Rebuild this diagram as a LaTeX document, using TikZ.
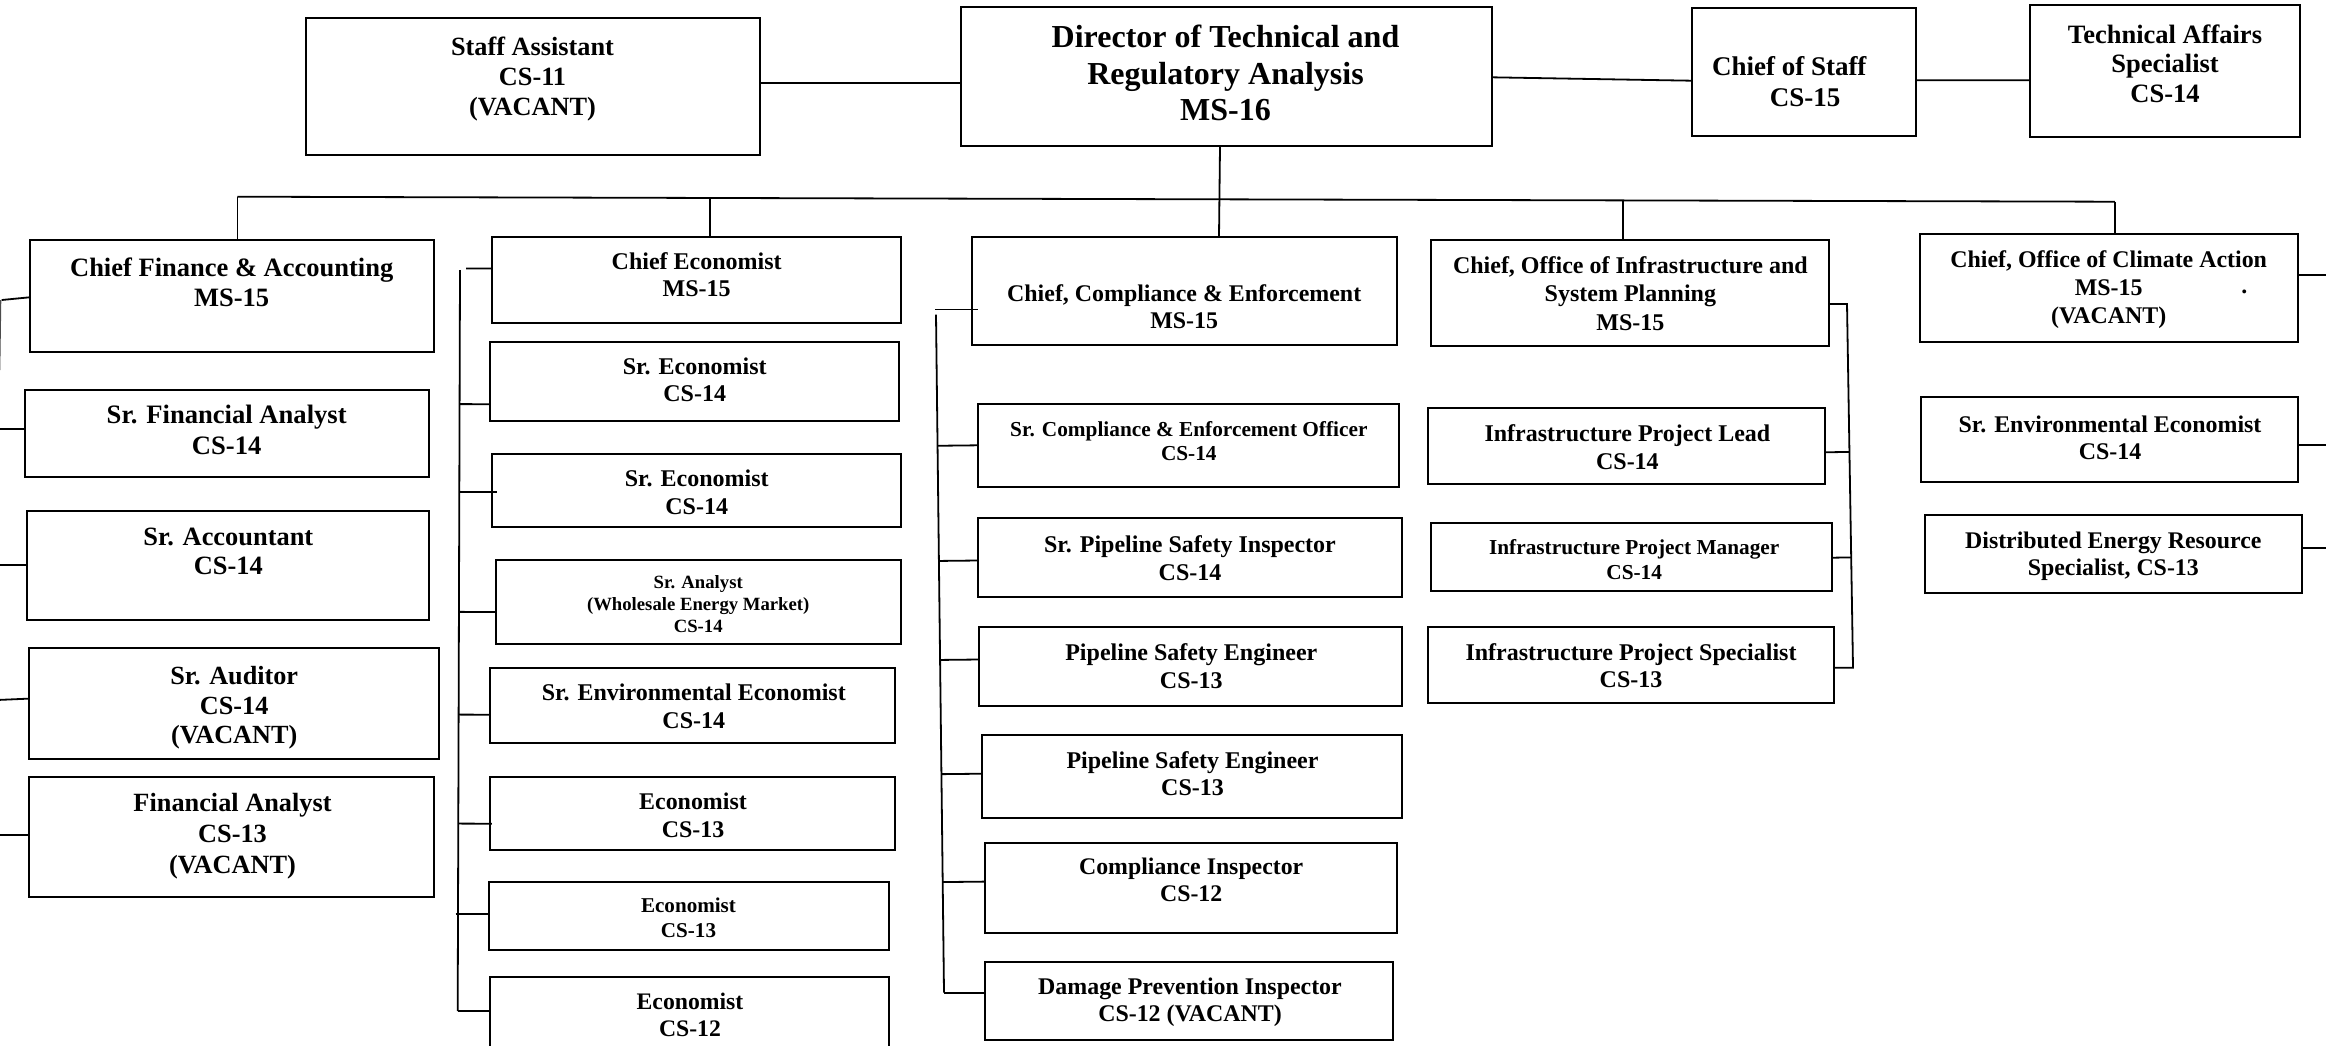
\documentclass[tikz,border=0pt]{standalone}
\usepackage{fontspec}
\setmainfont{Liberation Serif}
\usetikzlibrary{calc}
\newcommand\boxfont[2]{\fontsize{#1}{#2}\selectfont\bfseries}
\begin{document}
\begin{tikzpicture}[x=1pt, y=-1pt,
  orgbox/.style={draw, line width=2pt, rectangle, inner sep=0pt, outer sep=0pt},
  title/.style={inner sep=0pt, outer sep=0pt, align=center, anchor=north},
  wire/.style={line width=1.8pt},
]
\useasboundingbox (0,0) rectangle (2326,1045);
\clip (0,0) rectangle (2326,1045);

% ---------- top row ----------
\node[orgbox, minimum width=454.4pt, minimum height=137pt]   (staff)    at (532.8,86.5)  {};
\node[orgbox, minimum width=530.9pt, minimum height=139.5pt] (director) at (1226.2,76.3) {};
\node[orgbox, minimum width=224.3pt, minimum height=127.4pt] (cos)      at (1803.9,72.0) {};
\node[orgbox, minimum width=270pt,   minimum height=131.7pt] (tas)      at (2164.5,70.9) {};

\node[title, font={\boxfont{26.3}{30}}]   (staff-t)    at (532.5,36.7) {Staff Assistant\\CS-11\\(VACANT)};
\node[title, font={\boxfont{32}{36.6}}]   (director-t) at (1225.5,25)  {Director of Technical and\\Regulatory Analysis\\MS-16};
\node[title, font={\boxfont{27}{30.6}}, align=left, anchor=north west] (cos-t) at (1712,56.7) {Chief of Staff\\\hspace*{57.8pt}CS-15};
\node[title, font={\boxfont{26.5}{29.2}}] (tas-t)      at (2165,25)    {Technical Affairs\\Specialist\\CS-14};

% ---------- finance column ----------
\node[orgbox, minimum width=404.7pt, minimum height=112.2pt] (cfa)  at (231.9,295.6) {};
\node[orgbox, minimum width=404.6pt, minimum height=87.4pt]  (sfa)  at (227,433.3)   {};
\node[orgbox, minimum width=402pt,   minimum height=109pt]   (sacc) at (228.3,565.5) {};
\node[orgbox, minimum width=409.4pt, minimum height=111.1pt] (saud) at (234,703.3)   {};
\node[orgbox, minimum width=405pt,   minimum height=120.5pt] (fan)  at (231.8,837)   {};

\node[title, font={\boxfont{26.5}{29.5}}] (cfa-t)  at (231.7,258)   {Chief Finance \& Accounting\\MS-15};
\node[title, font={\boxfont{26.6}{30.3}}] (sfa-t)  at (226.7,405.3) {Sr. Financial Analyst\\CS-14};
\node[title, font={\boxfont{26.4}{29}}]   (sacc-t) at (228.3,528)   {Sr. Accountant\\CS-14};
\node[title, font={\boxfont{26.2}{29.5}}] (saud-t) at (234.2,666.4) {Sr. Auditor\\CS-14\\(VACANT)};
\node[title, font={\boxfont{26.3}{30.6}}] (fan-t)  at (232.5,793.7) {Financial Analyst\\CS-13\\(VACANT)};

% ---------- economics column ----------
\node[orgbox, minimum width=408.7pt, minimum height=86.1pt] (ce)  at (696.7,279.6) {};
\node[orgbox, minimum width=409pt,   minimum height=78.5pt] (se1) at (694.5,381.3) {};
\node[orgbox, minimum width=408.7pt, minimum height=72.6pt] (se2) at (696.7,490.5) {};
\node[orgbox, minimum width=405pt,   minimum height=84.2pt] (san) at (698.5,601.6) {};
\node[orgbox, minimum width=405.3pt, minimum height=74.2pt] (see) at (692.7,705.5) {};
\node[orgbox, minimum width=405.3pt, minimum height=73.2pt] (ec1) at (692.7,813.4) {};
\node[orgbox, minimum width=400.3pt, minimum height=67.5pt] (ec2) at (688.9,915.8) {};
\node[orgbox, minimum width=399pt,   minimum height=83pt]   (ec3) at (689.5,1018.5) {};

\node[title, font={\boxfont{24}{27.4}}]   (ce-t)  at (696.7,252.6) {Chief Economist\\MS-15};
\node[title, font={\boxfont{24}{27.4}}]   (se1-t) at (694.7,357.9) {Sr. Economist\\CS-14};
\node[title, font={\boxfont{24}{27.4}}]   (se2-t) at (696.7,470)   {Sr. Economist\\CS-14};
\node[title, font={\boxfont{18.7}{22}}]   (san-t) at (698.2,575.3) {Sr. Analyst\\(Wholesale Energy Market)\\CS-14};
\node[title, font={\boxfont{24}{27.9}}]   (see-t) at (693.8,684.2) {Sr. Environmental Economist\\CS-14};
\node[title, font={\boxfont{23.9}{27.9}}] (ec1-t) at (693,792.6)   {Economist\\CS-13};
\node[title, font={\boxfont{21.1}{24.7}}] (ec2-t) at (688.5,897.9) {Economist\\CS-13};
\node[title, font={\boxfont{23.7}{27.4}}] (ec3-t) at (690,992.6)   {Economist\\CS-12};

% ---------- compliance column ----------
\node[orgbox, minimum width=425pt,   minimum height=108.8pt] (cce)  at (1184.2,290.9) {};
\node[orgbox, minimum width=421.6pt, minimum height=83.2pt]  (sceo) at (1188.5,445.8) {};
\node[orgbox, minimum width=424.6pt, minimum height=79pt]    (spsi) at (1190,557.9)   {};
\node[orgbox, minimum width=423.3pt, minimum height=79pt]    (pse1) at (1190.7,666.3) {};
\node[orgbox, minimum width=420.6pt, minimum height=83.3pt]  (pse2) at (1192,776.4)   {};
\node[orgbox, minimum width=411.7pt, minimum height=90.4pt]  (ci)   at (1190.9,887.8) {};
\node[orgbox, minimum width=408.3pt, minimum height=78pt]    (dpi)  at (1189.2,1001)  {};

\node[title, font={\boxfont{23.9}{27.4}}] (cce-t)  at (1184.2,284.2) {Chief, Compliance \& Enforcement\\MS-15};
\node[title, font={\boxfont{21.3}{24.5}}] (sceo-t) at (1188.8,421)   {Sr. Compliance \& Enforcement Officer\\CS-14};
\node[title, font={\boxfont{24}{27.3}}]   (spsi-t) at (1190,535.8)   {Sr. Pipeline Safety Inspector\\CS-14};
\node[title, font={\boxfont{24}{27.4}}]   (pse1-t) at (1191.3,643.7) {Pipeline Safety Engineer\\CS-13};
\node[title, font={\boxfont{24}{26.9}}]   (pse2-t) at (1192.5,751.6) {Pipeline Safety Engineer\\CS-13};
\node[title, font={\boxfont{23.8}{26.9}}] (ci-t)   at (1191.2,858.4) {Compliance Inspector\\CS-12};
\node[title, font={\boxfont{23.9}{27.4}}] (dpi-t)  at (1190,977.9)   {Damage Prevention Inspector\\CS-12 (VACANT)};

% ---------- infrastructure column ----------
\node[orgbox, minimum width=398.7pt, minimum height=106pt]  (cinf) at (1630,293)     {};
\node[orgbox, minimum width=396.9pt, minimum height=76pt]   (ipl)  at (1626.9,446.3) {};
\node[orgbox, minimum width=401.7pt, minimum height=68.3pt] (ipm)  at (1631.6,556.9) {};
\node[orgbox, minimum width=405.6pt, minimum height=75.4pt] (ips)  at (1631.2,665)   {};

\node[title, font={\boxfont{24}{28.2}}]   (cinf-t) at (1630.4,256.7) {Chief, Office of Infrastructure and\\System Planning\\MS-15};
\node[title, font={\boxfont{24}{27.6}}]   (ipl-t)  at (1627.4,425)   {Infrastructure Project Lead\\CS-14};
\node[title, font={\boxfont{21.3}{25}}]   (ipm-t)  at (1634.2,539.3) {Infrastructure Project Manager\\CS-14};
\node[title, font={\boxfont{24}{27.4}}]   (ips-t)  at (1631,643.3)   {Infrastructure Project Specialist\\CS-13};

% ---------- climate column ----------
\node[orgbox, minimum width=378.3pt, minimum height=108pt]  (cca) at (2109.2,288)   {};
\node[orgbox, minimum width=377.3pt, minimum height=84.4pt] (sec) at (2109.7,439.5) {};
\node[orgbox, minimum width=376.7pt, minimum height=78.3pt] (der) at (2113.3,554.2) {};

\node[title, font={\boxfont{23.9}{27.8}}]  (cca-t) at (2108.7,250.7) {Chief, Office of Climate Action\\MS-15\\(VACANT)};
\node[inner sep=0pt, font={\boxfont{23.9}{27.8}}] (cca-dot) at (2244.3,291.5) {.};
\node[title, font={\boxfont{23.9}{26.7}}]  (sec-t) at (2110,416)     {Sr. Environmental Economist\\CS-14};
\node[title, font={\boxfont{23.85}{27.4}}] (der-t) at (2113.3,531.7) {Distributed Energy Resource\\Specialist, CS-13};

% ---------- top row links ----------
\draw[wire] ([yshift=3.2pt]staff.east) -- ([yshift=-7pt]director.west);
\draw[wire] ([yshift=-1pt]director.east) -- ([yshift=-8.7pt]cos.west);
\draw[wire] ([yshift=-8.3pt]cos.east) -- ([yshift=-9.4pt]tas.west);

% ---------- main bus under the director ----------
\coordinate (busL) at (237.4,196.7);
\coordinate (busR) at (2114.8,201.7);
\draw[wire] (busL) -- (busR);
\draw[wire] (busL) -- ([xshift=5.5pt]cfa.north);
\draw[wire] ($(busL)!([xshift=13.3pt]ce.north)!(busR)$) -- ([xshift=13.3pt]ce.north);
\draw[wire] ([xshift=-6.2pt]director.south) -- ([xshift=34.8pt]cce.north);
\draw[wire] ($(busL)!([xshift=-7pt]cinf.north)!(busR)$) -- ([xshift=-7pt]cinf.north);
\draw[wire] (busR) -- ([xshift=5.6pt]cca.north);

% ---------- finance links (spine runs off the left edge) ----------
\coordinate (fin-a) at (1.7,300);
\coordinate (fin-b) at (-0.6,370);
\coordinate (fin-1) at (-3,429);
\coordinate (fin-2) at (-3,564.6);
\coordinate (fin-3) at (-3,700);
\coordinate (fin-4) at (-3,834.7);
\draw[wire] ([yshift=-1.7pt]cfa.west) -- (fin-a);
\draw[wire, black!70] (0.4,300) -- (fin-b);
\draw[wire] ([yshift=4.3pt]sfa.west) -- (fin-1);
\draw[wire] ([yshift=0.9pt]sacc.west) -- (fin-2);
\draw[wire] ([yshift=4.7pt]saud.west) -- (fin-3);
\draw[wire] ([yshift=2.3pt]fan.west) -- (fin-4);

% ---------- economics bracket ----------
\coordinate (eco-top) at (460,270);
\coordinate (eco-bot) at (457.7,1011);
\coordinate (eco-tick) at (466,268.4);
\coordinate (eco-stub) at (455.7,913.7);
\draw[wire] (eco-top) -- (eco-bot);
\draw[wire] (eco-tick) -- ([yshift=11.2pt]ce.west);
\draw[wire] ($(eco-top)!([yshift=-22.9pt]se1.west)!(eco-bot)$) -- ([yshift=-22.9pt]se1.west);
\draw[wire] ($(eco-top)!([yshift=-1.5pt]se2.west)!(eco-bot)$) -- ([yshift=-1.5pt, xshift=4.4pt]se2.west);
\draw[wire] ($(eco-top)!([yshift=-10.4pt]san.west)!(eco-bot)$) -- ([yshift=-10.4pt]san.west);
\draw[wire] ($(eco-top)!([yshift=-9.2pt]see.west)!(eco-bot)$) -- ([yshift=-9.2pt]see.west);
\draw[wire] ($(eco-top)!([yshift=-10.3pt]ec1.west)!(eco-bot)$) -- ([yshift=-10.3pt, xshift=1.7pt]ec1.west);
\draw[wire] (eco-stub) -- ([yshift=2.1pt]ec2.west);
\draw[wire] (eco-bot) -- ([yshift=7.5pt]ec3.west);

% ---------- compliance bracket ----------
\coordinate (cmp-top) at (936,314.7);
\coordinate (cmp-bot) at (944,992.6);
\coordinate (cmp-tick) at (935,309.5);
\draw[wire] (cmp-top) -- (cmp-bot);
\draw[wire] (cmp-tick) -- ([yshift=-18.6pt, xshift=6pt]cce.west);
\draw[wire] ($(cmp-top)!([yshift=0.5pt]sceo.west)!(cmp-bot)$) -- ([yshift=0.5pt]sceo.west);
\draw[wire] ($(cmp-top)!([yshift=-2.6pt]spsi.west)!(cmp-bot)$) -- ([yshift=-2.6pt]spsi.west);
\draw[wire] ($(cmp-top)!([yshift=6.8pt]pse1.west)!(cmp-bot)$) -- ([yshift=6.8pt]pse1.west);
\draw[wire] ($(cmp-top)!([yshift=2.7pt]pse2.west)!(cmp-bot)$) -- ([yshift=2.7pt]pse2.west);
\draw[wire] ($(cmp-top)!([yshift=6.2pt]ci.west)!(cmp-bot)$) -- ([yshift=6.2pt]ci.west);
\draw[wire] (cmp-bot) -- ([yshift=8.4pt]dpi.west);

% ---------- infrastructure bracket ----------
\coordinate (inf-top) at (1847,304);
\coordinate (inf-bot) at (1853,667.7);
\draw[wire] ([yshift=-11pt]cinf.east) -- (inf-top) -- (inf-bot) -- ([yshift=-2.7pt]ips.east);
\draw[wire] ([yshift=-6pt]ipl.east) -- ($(inf-top)!([yshift=-6pt]ipl.east)!(inf-bot)$);
\draw[wire] ([yshift=-0.8pt]ipm.east) -- ($(inf-top)!([yshift=-0.8pt]ipm.east)!(inf-bot)$);

% ---------- climate links (run off the right edge) ----------
\coordinate (cl-1) at (2330,275);
\coordinate (cl-2) at (2330,445);
\coordinate (cl-3) at (2330,548.3);
\draw[wire] ([yshift=13pt]cca.east) -- (cl-1);
\draw[wire] ([yshift=-5.5pt]sec.east) -- (cl-2);
\draw[wire] ([yshift=5.9pt]der.east) -- (cl-3);
\end{tikzpicture}
\end{document}
